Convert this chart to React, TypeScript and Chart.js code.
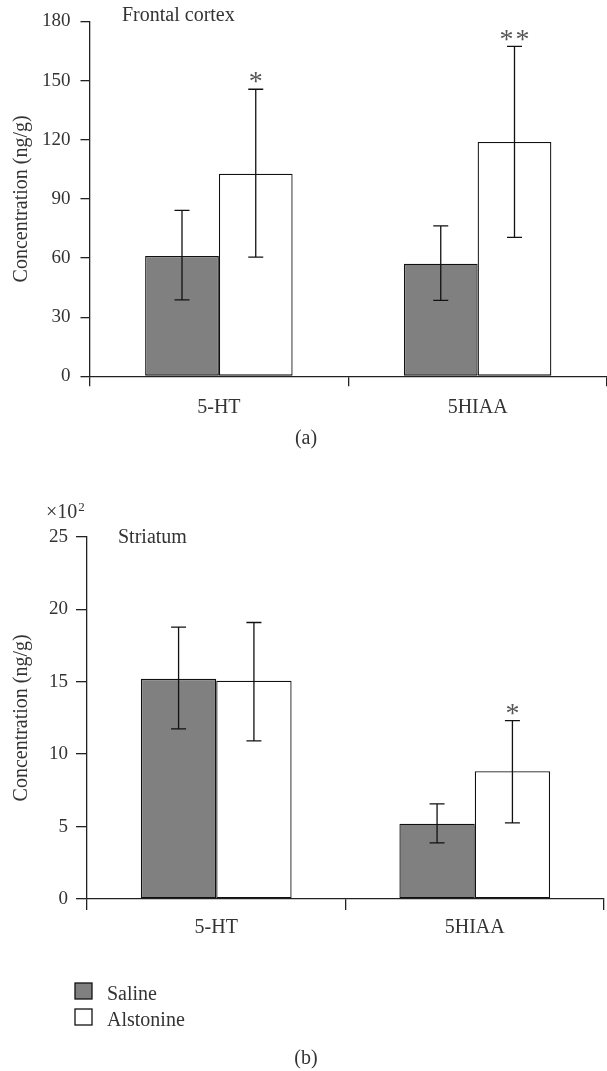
import { useEffect, useRef } from "react";
import { Chart, registerables } from "chart.js";

Chart.register(...registerables);

// ---------- data ----------
const categories = ["5-HT", "5HIAA"];

// (a) Frontal cortex, ng/g
const salineA = [61.0, 57.1];
const salineLowA = [38.8, 38.5];
const salineHighA = [84.2, 76.3];
const alstonineA = [102.7, 118.8];
const alstonineLowA = [60.4, 70.5];
const alstonineHighA = [145.6, 167.3];
const salineSigA = ["", ""];
const alstonineSigA = ["*", "**"];

// (b) Striatum, x10^2 ng/g
const salineB = [15.19, 5.2];
const salineLowB = [11.74, 3.87];
const salineHighB = [18.76, 6.56];
const alstonineB = [15.06, 8.82];
const alstonineLowB = [10.91, 5.25];
const alstonineHighB = [19.08, 12.31];
const salineSigB = ["", ""];
const alstonineSigB = ["", "*"];

const seriesNames = ["Saline", "Alstonine"];

// ---------- style ----------
const FONT = "'Liberation Serif', 'Times New Roman', serif";
const TEXT = "#333333";
const AXIS = "#222222";
const SALINE_FILL = "#808080";
const ALST_FILL = "#ffffff";
const EDGE = "#111111";

type Geo = {
  height: number;
  yAxisWidth: number;
  xAxisHeight: number;
  padTop: number;
  padRight: number;
  yTickLen: number;
  yTickPad: number;
  xTickLen: number;
  xTickPad: number;
  catPct: number;
};

function makeErrorPlugin(
  lows: number[][],
  highs: number[][],
  sigs: string[][]
) {
  return {
    id: "errorBars",
    afterDatasetsDraw(chart: any) {
      const ctx = chart.ctx;
      const yScale = chart.scales.y;
      lows.forEach((low, di) => {
        const meta = chart.getDatasetMeta(di);
        meta.data.forEach((el: any, i: number) => {
          const x = el.x;
          const yl = yScale.getPixelForValue(low[i]);
          const yh = yScale.getPixelForValue(highs[di][i]);
          ctx.save();
          ctx.strokeStyle = EDGE;
          ctx.lineWidth = 1.3;
          ctx.beginPath();
          ctx.moveTo(x, yl);
          ctx.lineTo(x, yh);
          ctx.moveTo(x - 7.5, yl);
          ctx.lineTo(x + 7.5, yl);
          ctx.moveTo(x - 7.5, yh);
          ctx.lineTo(x + 7.5, yh);
          ctx.stroke();
          const s = sigs[di][i];
          if (s) {
            const size = 28;
            ctx.font = `${size}px ${FONT}`;
            ctx.fillStyle = "#555555";
            ctx.textAlign = "center";
            ctx.textBaseline = "alphabetic";
            const cy = yh - 12 + 0.47 * size;
            const n = s.length;
            for (let k = 0; k < n; k++) {
              const dx = (k - (n - 1) / 2) * 16;
              ctx.fillText("*", x + dx, cy);
            }
          }
          ctx.restore();
        });
      });
    },
  };
}

function makeTextPlugin(draw: (ctx: CanvasRenderingContext2D, chart: any) => void) {
  return {
    id: "texts",
    afterDraw(chart: any) {
      const ctx = chart.ctx;
      ctx.save();
      draw(ctx, chart);
      ctx.restore();
    },
  };
}

function drawYTitle(ctx: CanvasRenderingContext2D, chart: any, cx: number) {
  const a = chart.chartArea;
  ctx.translate(cx, (a.top + a.bottom) / 2);
  ctx.rotate(-Math.PI / 2);
  ctx.font = `20px ${FONT}`;
  ctx.fillStyle = TEXT;
  ctx.textAlign = "center";
  ctx.textBaseline = "middle";
  ctx.fillText("Concentration (ng/g)", 0, 0);
  ctx.setTransform(1, 0, 0, 1, 0, 0);
}

function buildConfig(
  saline: number[],
  alstonine: number[],
  yMax: number,
  step: number,
  geo: Geo,
  plugins: any[]
): any {
  return {
    type: "bar",
    data: {
      labels: categories,
      datasets: [
        {
          label: seriesNames[0],
          data: saline,
          backgroundColor: SALINE_FILL,
          borderColor: EDGE,
          borderWidth: 1.3,
          borderSkipped: false,
          categoryPercentage: geo.catPct,
          barPercentage: 1,
        },
        {
          label: seriesNames[1],
          data: alstonine,
          backgroundColor: ALST_FILL,
          borderColor: EDGE,
          borderWidth: 1.3,
          borderSkipped: false,
          categoryPercentage: geo.catPct,
          barPercentage: 1,
        },
      ],
    },
    options: {
      responsive: false,
      maintainAspectRatio: false,
      animation: false,
      events: [],
      layout: { padding: { top: geo.padTop, right: geo.padRight, left: 0, bottom: 0 } },
      plugins: {
        legend: { display: false },
        tooltip: { enabled: false },
        title: { display: false },
      },
      scales: {
        x: {
          type: "category",
          offset: true,
          afterFit: (s: any) => {
            s.height = geo.xAxisHeight;
          },
          grid: {
            offset: true,
            drawOnChartArea: false,
            drawTicks: true,
            tickLength: geo.xTickLen,
            color: AXIS,
            lineWidth: 1.3,
          },
          border: { display: true, color: AXIS, width: 1.3 },
          ticks: {
            color: TEXT,
            font: { family: FONT, size: 20 },
            padding: geo.xTickPad,
            maxRotation: 0,
          },
        },
        y: {
          type: "linear",
          min: 0,
          max: yMax,
          afterFit: (s: any) => {
            s.width = geo.yAxisWidth;
          },
          grid: {
            drawOnChartArea: false,
            drawTicks: true,
            tickLength: geo.yTickLen,
            color: AXIS,
            lineWidth: 1.3,
          },
          border: { display: true, color: AXIS, width: 1.3 },
          ticks: {
            stepSize: step,
            color: TEXT,
            font: { family: FONT, size: 19 },
            padding: geo.yTickPad,
          },
        },
      },
    },
    plugins,
  };
}

const geoA: Geo = {
  height: 470,
  yAxisWidth: 89.5,
  xAxisHeight: 470 - 376.3,
  padTop: 19.3,
  padRight: -1.5,
  yTickLen: 9,
  yTickPad: 10,
  xTickLen: 10,
  xTickPad: 9,
  catPct: 0.57,
};

const geoB: Geo = {
  height: 601,
  yAxisWidth: 87,
  xAxisHeight: 601 - 429,
  padTop: 66.7,
  padRight: 3,
  yTickLen: 11,
  yTickPad: 8,
  xTickLen: 11,
  xTickPad: 6,
  catPct: 0.583,
};

export default function App() {
  const refA = useRef<HTMLCanvasElement>(null);
  const refB = useRef<HTMLCanvasElement>(null);

  useEffect(() => {
    const textsA = makeTextPlugin((ctx, chart) => {
      ctx.font = `20px ${FONT}`;
      ctx.fillStyle = TEXT;
      ctx.textAlign = "left";
      ctx.textBaseline = "alphabetic";
      ctx.fillText("Frontal cortex", 122, 21);
      ctx.textAlign = "center";
      ctx.fillText("(a)", 306, 444);
      drawYTitle(ctx, chart, 22);
    });
    const textsB = makeTextPlugin((ctx, chart) => {
      const off = 470;
      ctx.font = `20px ${FONT}`;
      ctx.fillStyle = TEXT;
      ctx.textAlign = "left";
      ctx.textBaseline = "alphabetic";
      ctx.fillText("Striatum", 118, 543 - off);
      ctx.fillText("\u00d710", 46, 518 - off);
      const w = ctx.measureText("\u00d710").width;
      ctx.font = `13px ${FONT}`;
      ctx.fillText("2", 46 + w + 1, 511 - off);
      ctx.font = `20px ${FONT}`;
      ctx.textAlign = "center";
      ctx.fillText("(b)", 306, 1064 - off);
      // legend
      const fills = [SALINE_FILL, ALST_FILL];
      const baselines = [1000, 1026];
      const boxTops = [983, 1009];
      seriesNames.forEach((name, i) => {
        ctx.fillStyle = fills[i];
        ctx.fillRect(75, boxTops[i] - off, 17, 16);
        ctx.strokeStyle = EDGE;
        ctx.lineWidth = 1.3;
        ctx.strokeRect(75, boxTops[i] - off, 17, 16);
        ctx.fillStyle = TEXT;
        ctx.textAlign = "left";
        ctx.fillText(name, 107, baselines[i] - off);
      });
      drawYTitle(ctx, chart, 22);
    });

    const chartA = new Chart(
      refA.current as HTMLCanvasElement,
      buildConfig(salineA, alstonineA, 180, 30, geoA, [
        makeErrorPlugin(
          [salineLowA, alstonineLowA],
          [salineHighA, alstonineHighA],
          [salineSigA, alstonineSigA]
        ),
        textsA,
      ])
    );
    const chartB = new Chart(
      refB.current as HTMLCanvasElement,
      buildConfig(salineB, alstonineB, 25, 5, geoB, [
        makeErrorPlugin(
          [salineLowB, alstonineLowB],
          [salineHighB, alstonineHighB],
          [salineSigB, alstonineSigB]
        ),
        textsB,
      ])
    );
    return () => {
      chartA.destroy();
      chartB.destroy();
    };
  }, []);

  return (
    <div style={{ position: "absolute", left: 0, top: 0, width: 607, height: 1071, background: "#fff" }}>
      <canvas
        ref={refA}
        width={607}
        height={geoA.height}
        style={{ position: "absolute", left: 0, top: 0, width: 607, height: geoA.height, display: "block" }}
      />
      <canvas
        ref={refB}
        width={607}
        height={geoB.height}
        style={{ position: "absolute", left: 0, top: 470, width: 607, height: geoB.height, display: "block" }}
      />
    </div>
  );
}
